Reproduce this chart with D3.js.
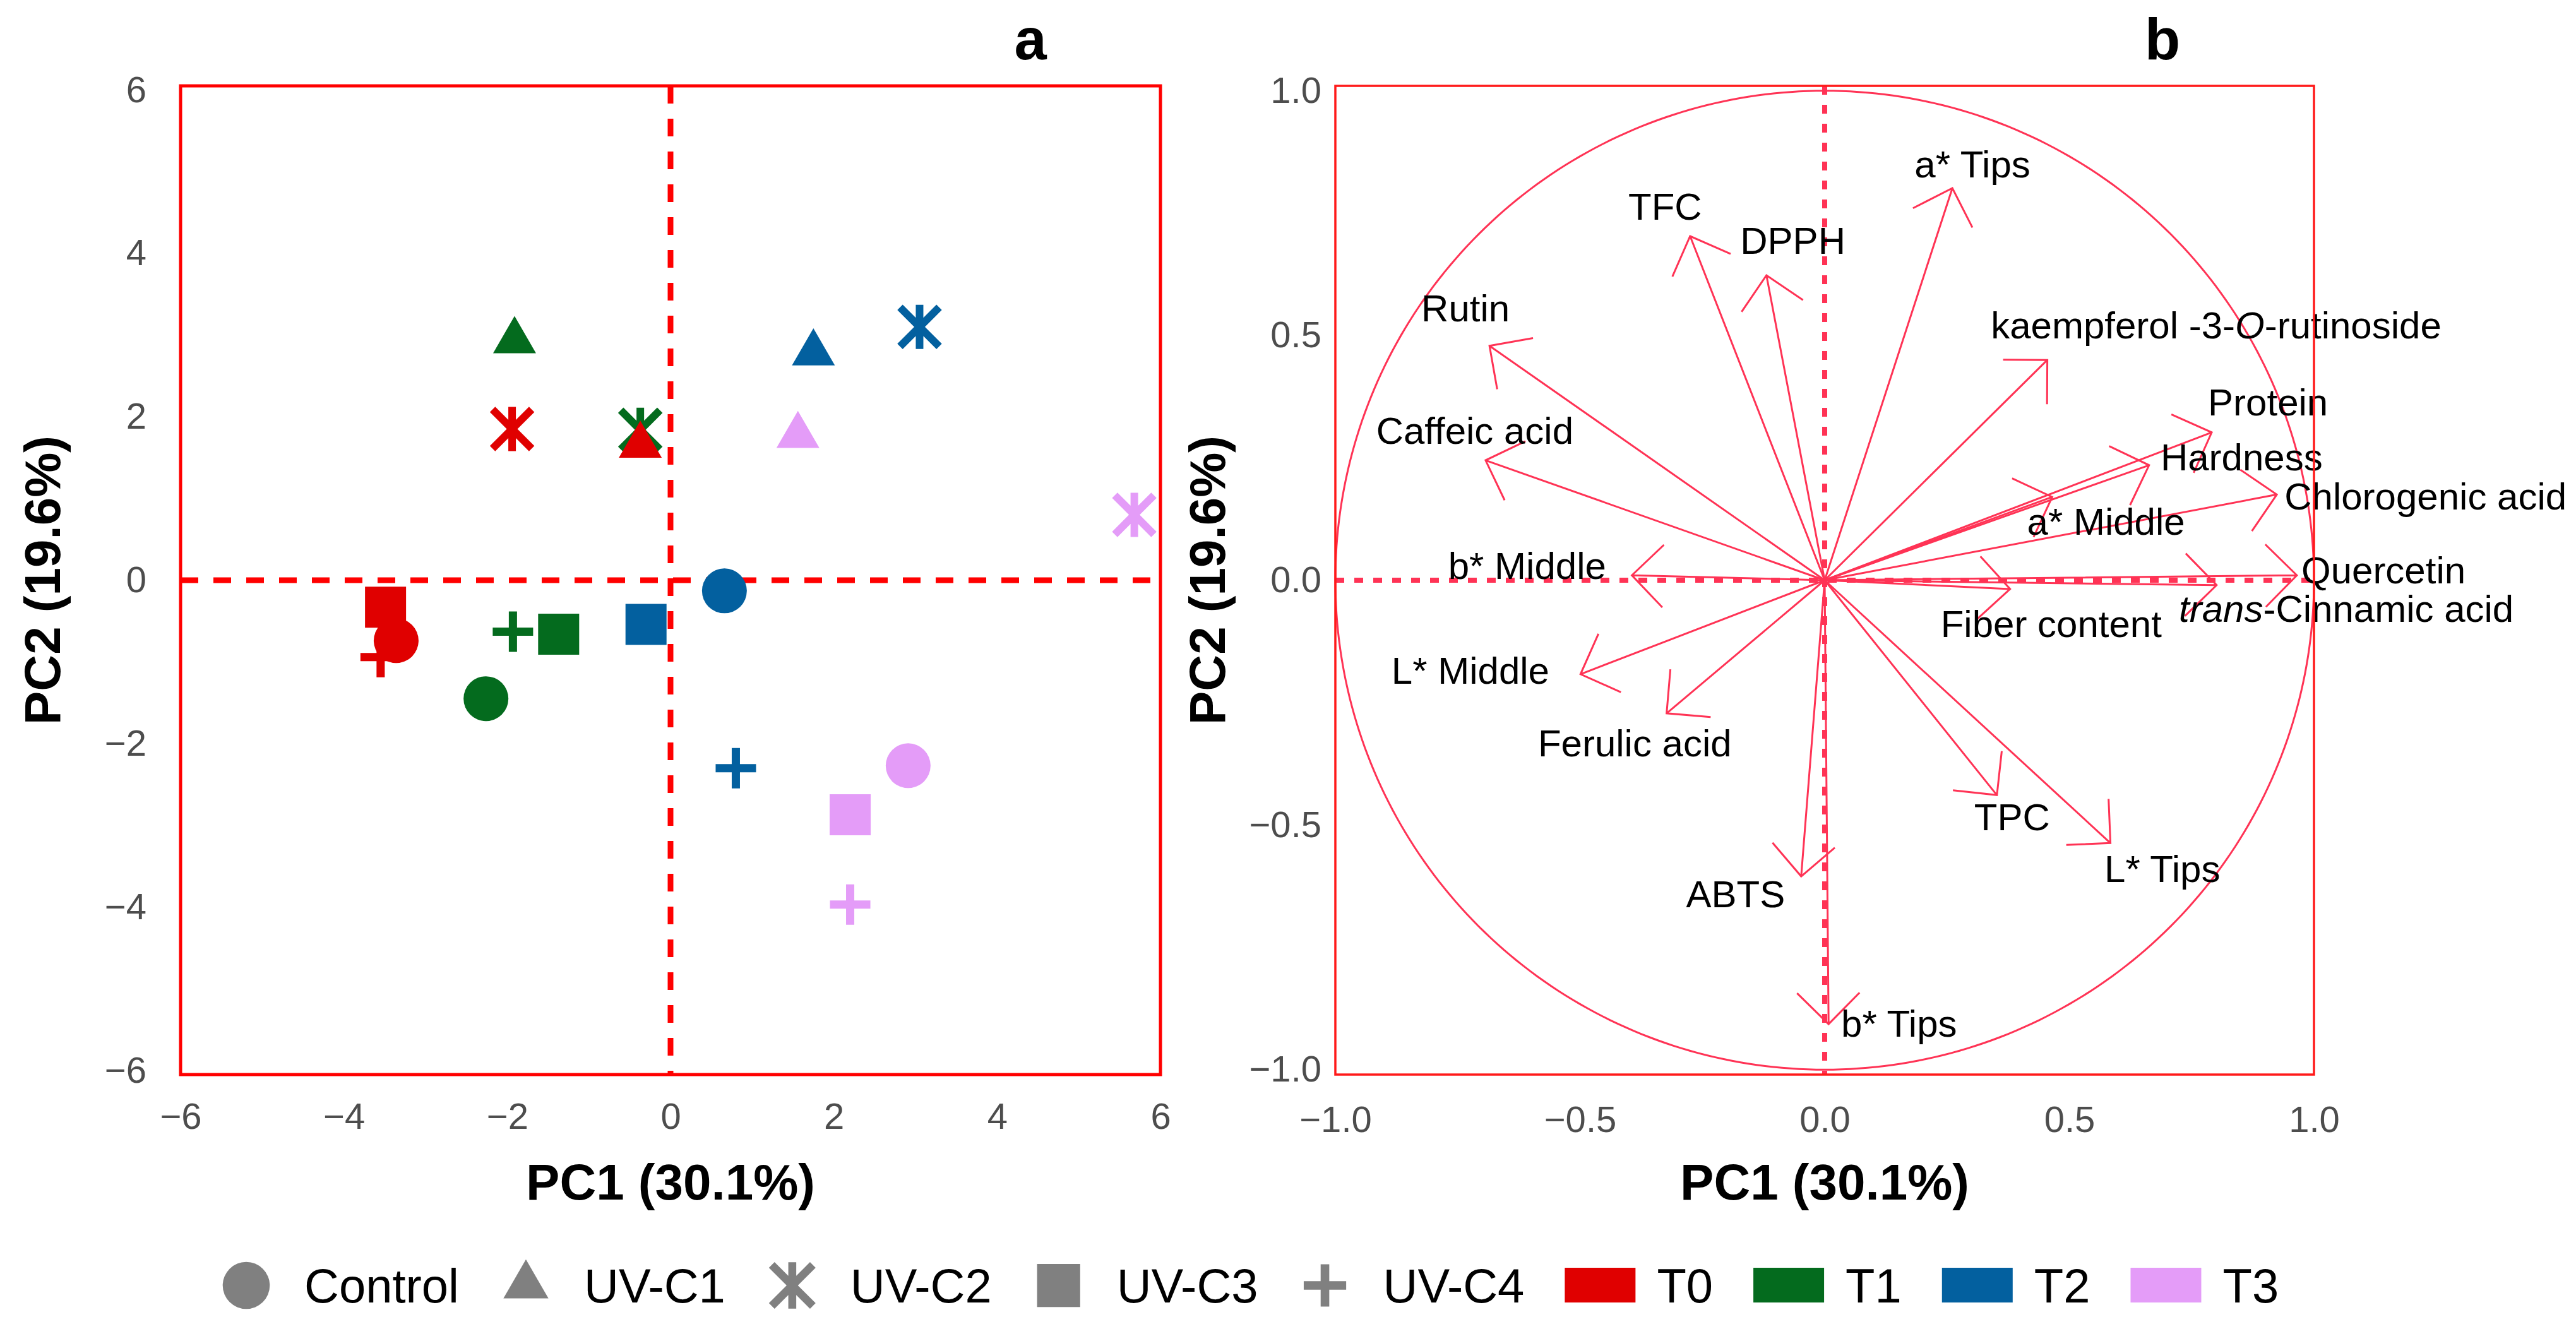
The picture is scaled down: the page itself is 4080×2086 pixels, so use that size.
<!DOCTYPE html>
<html><head><meta charset="utf-8">
<script src="https://cdn.jsdelivr.net/npm/d3@7"></script>
<style>html,body{margin:0;padding:0;background:#fff;} text{font-family:"Liberation Sans",Arial,Helvetica,sans-serif;}</style>
</head><body><svg id="chart" width="4080" height="2086"></svg>
<script>
// ---------- DATA ----------
const treatments = ["Control", "UV-C1", "UV-C2", "UV-C3", "UV-C4"];
const times = ["T0", "T1", "T2", "T3"];
const timeColors = ["#e00000", "#046b1e", "#03609f", "#e49cf8"];

// scores (PC1, PC2) per time, in treatment order
const pc1_T0 = [-3.36, -0.37, -1.94, -3.49, -3.55];
const pc2_T0 = [-0.74, 1.65, 1.85, -0.33, -0.94];
const pc1_T1 = [-2.26, -1.91, -0.37, -1.37, -1.93];
const pc2_T1 = [-1.45, 2.93, 1.84, -0.66, -0.63];
const pc1_T2 = [0.66, 1.75, 3.05, -0.30, 0.80];
const pc2_T2 = [-0.13, 2.78, 3.10, -0.54, -2.30];
const pc1_T3 = [2.91, 1.56, 5.68, 2.20, 2.20];
const pc2_T3 = [-2.27, 1.77, 0.80, -2.87, -3.97];

// loadings (variables)
const loadingVars = ["TFC", "DPPH", "a* Tips", "Rutin", "Caffeic acid", "kaempferol -3-_O_-rutinoside",
  "Protein", "Hardness", "Chlorogenic acid", "a* Middle", "b* Middle", "Quercetin", "Fiber content",
  "_trans_-Cinnamic acid", "L* Middle", "Ferulic acid", "TPC", "L* Tips", "ABTS", "b* Tips"];
const loadingPC1 = [-0.275, -0.119, 0.261, -0.685, -0.693, 0.455, 0.791, 0.663, 0.924, 0.465, -0.394, 0.965, 0.379, 0.801, -0.499, -0.323, 0.352, 0.584, -0.048, 0.008];
const loadingPC2 = [0.703, 0.623, 0.801, 0.479, 0.245, 0.450, 0.302, 0.235, 0.175, 0.170, 0.010, 0.010, -0.018, -0.010, -0.192, -0.272, -0.439, -0.537, -0.605, -0.907];
// label anchor positions (loading space)
const labelPC1 = [-0.326, -0.065, 0.302, -0.734, -0.715, 0.800, 0.906, 0.852, 1.228, 0.575, -0.608, 1.142, 0.463, 1.066, -0.724, -0.388, 0.383, 0.690, -0.182, 0.152];
const labelPC2 = [0.764, 0.694, 0.850, 0.556, 0.306, 0.521, 0.364, 0.252, 0.172, 0.120, 0.030, 0.021, -0.089, -0.058, -0.185, -0.333, -0.484, -0.590, -0.641, -0.906];

const scoreTicks = [-6, -4, -2, 0, 2, 4, 6];
const loadingTicks = [-1, -0.5, 0, 0.5, 1];
const axisTitleX = "PC1 (30.1%)";
const axisTitleY = "PC2 (19.6%)";

// ---------- SETUP ----------
const svg = d3.select("#chart");
svg.append("rect").attr("width", 4080).attr("height", 2086).attr("fill", "#fff");
const minus = d => d3.format("")(d).replace("-", "\u2212");
const fmt1 = d => d3.format(".1f")(d).replace("-", "\u2212");

const plotTop = 136, plotBottom = 1702;
// Panel a scales
const xa = d3.scaleLinear().domain([-6, 6]).range([286, 1838]);
const ya = d3.scaleLinear().domain([-6.05, 6.05]).range([plotBottom, plotTop]);
// Panel b scales
const xb = d3.scaleLinear().domain([-1, 1]).range([2115, 3665]);
const yb = d3.scaleLinear().domain([-1.01, 1.01]).range([plotBottom, plotTop]);

// ---------- PANEL A ----------
const gA = svg.append("g");
gA.append("line").attr("x1", xa(0)).attr("x2", xa(0)).attr("y1", plotTop).attr("y2", plotBottom)
  .attr("stroke", "#ff0000").attr("stroke-width", 9).attr("stroke-dasharray", "28,24");
gA.append("line").attr("x1", xa(-6)).attr("x2", xa(6)).attr("y1", ya(0)).attr("y2", ya(0))
  .attr("stroke", "#ff0000").attr("stroke-width", 9).attr("stroke-dasharray", "28,24");

function shapePath(name, s) {
  if (name === "Control") return d3.symbol(d3.symbolCircle, 3960 * s * s)();
  if (name === "UV-C1") return d3.symbol(d3.symbolTriangle, 2000 * s * s)();
  if (name === "UV-C3") return d3.symbol(d3.symbolSquare, 4225 * s * s)();
  return null;
}
function drawMarker(g, name, color, cx, cy, s) {
  if (name === "UV-C4") {
    const h = 32 * s;
    g.append("path").attr("d", `M${cx - h},${cy}H${cx + h}M${cx},${cy - h}V${cy + h}`)
      .attr("stroke", color).attr("stroke-width", 13 * s).attr("fill", "none");
  } else if (name === "UV-C2") {
    const h = 35 * s, d = 31 * s;
    g.append("path").attr("d", `M${cx},${cy - h}V${cy + h}M${cx - d},${cy - d}L${cx + d},${cy + d}M${cx - d},${cy + d}L${cx + d},${cy - d}`)
      .attr("stroke", color).attr("stroke-width", 12 * s).attr("fill", "none");
  } else {
    g.append("path").attr("d", shapePath(name, s)).attr("transform", `translate(${cx},${cy})`).attr("fill", color);
  }
}
const scoreData = [[pc1_T0, pc2_T0], [pc1_T1, pc2_T1], [pc1_T2, pc2_T2], [pc1_T3, pc2_T3]];
for (let ti = times.length - 1; ti >= 0; ti--) {
  for (let k = treatments.length - 1; k >= 0; k--) {
    drawMarker(gA, treatments[k], timeColors[ti], xa(scoreData[ti][0][k]), ya(scoreData[ti][1][k]), 1);
  }
}
gA.append("rect").attr("x", xa(-6)).attr("y", plotTop).attr("width", xa(6) - xa(-6)).attr("height", plotBottom - plotTop)
  .attr("fill", "none").attr("stroke", "#ff0000").attr("stroke-width", 5);

const axA_left = gA.append("g").attr("transform", `translate(${xa(-6)},0)`)
  .call(d3.axisLeft(ya).tickValues(scoreTicks).tickSize(0).tickPadding(54).tickFormat(minus));
const axA_bottom = gA.append("g").attr("transform", `translate(0,${plotBottom})`)
  .call(d3.axisBottom(xa).tickValues(scoreTicks).tickSize(0).tickPadding(45).tickFormat(minus));
[axA_left, axA_bottom].forEach(a => {
  a.select(".domain").remove();
  a.selectAll("text").attr("font-size", 58).attr("fill", "#4d4d4d").attr("font-family", '"Liberation Sans",Arial,sans-serif');
});

// ---------- PANEL B ----------
const gB = svg.append("g");
const lcol = "#ff3355";
const circ = d3.range(0, 361, 1).map(a => [Math.cos(a * Math.PI / 180), Math.sin(a * Math.PI / 180)]);
gB.append("path").attr("d", d3.line().x(d => xb(d[0])).y(d => yb(d[1]))(circ))
  .attr("fill", "none").attr("stroke", lcol).attr("stroke-width", 3);
gB.append("line").attr("x1", xb(0)).attr("x2", xb(0)).attr("y1", plotTop).attr("y2", plotBottom)
  .attr("stroke", lcol).attr("stroke-width", 8).attr("stroke-dasharray", "14,16");
gB.append("line").attr("x1", xb(-1)).attr("x2", xb(1)).attr("y1", yb(0)).attr("y2", yb(0))
  .attr("stroke", lcol).attr("stroke-width", 8).attr("stroke-dasharray", "14,16");
const ox = xb(0), oy = yb(0);
loadingVars.forEach((v, i) => {
  const tx = xb(loadingPC1[i]), ty = yb(loadingPC2[i]);
  const th = Math.atan2(ty - oy, tx - ox);
  const L = 70, ang = Math.PI / 4;
  const w1 = [tx - L * Math.cos(th - ang), ty - L * Math.sin(th - ang)];
  const w2 = [tx - L * Math.cos(th + ang), ty - L * Math.sin(th + ang)];
  gB.append("path").attr("d", `M${ox},${oy}L${tx},${ty}M${w1[0]},${w1[1]}L${tx},${ty}L${w2[0]},${w2[1]}`)
    .attr("fill", "none").attr("stroke", lcol).attr("stroke-width", 3).attr("stroke-linejoin", "miter");
});
loadingVars.forEach((v, i) => {
  const t = gB.append("text").attr("x", xb(labelPC1[i])).attr("y", yb(labelPC2[i]))
    .attr("dy", "0.35em").attr("text-anchor", "middle").attr("font-size", 60).attr("fill", "#000");
  v.split("_").forEach((part, j) => {
    if (part.length) t.append("tspan").text(part).attr("font-style", j % 2 ? "italic" : "normal");
  });
});
gB.append("rect").attr("x", xb(-1)).attr("y", plotTop).attr("width", xb(1) - xb(-1)).attr("height", plotBottom - plotTop)
  .attr("fill", "none").attr("stroke", "#ff1a1a").attr("stroke-width", 3.5);
const axB_left = gB.append("g").attr("transform", `translate(${xb(-1)},0)`)
  .call(d3.axisLeft(yb).tickValues(loadingTicks).tickSize(0).tickPadding(22).tickFormat(fmt1));
const axB_bottom = gB.append("g").attr("transform", `translate(0,${plotBottom})`)
  .call(d3.axisBottom(xb).tickValues(loadingTicks).tickSize(0).tickPadding(50).tickFormat(fmt1));
[axB_left, axB_bottom].forEach(a => {
  a.select(".domain").remove();
  a.selectAll("text").attr("font-size", 58).attr("fill", "#4d4d4d").attr("font-family", '"Liberation Sans",Arial,sans-serif');
});

// ---------- TITLES ----------
function axisTitles(xs, ys, yTitleX) {
  svg.append("text").attr("x", (xs.range()[0] + xs.range()[1]) / 2).attr("y", 1900)
    .attr("text-anchor", "middle").attr("font-size", 80).attr("font-weight", "bold").text(axisTitleX);
  svg.append("text").attr("transform", `translate(${yTitleX},${ys(0)}) rotate(-90)`)
    .attr("text-anchor", "middle").attr("font-size", 80).attr("font-weight", "bold").text(axisTitleY);
}
axisTitles(xa, ya, 95);
axisTitles(xb, yb, 1940);
svg.append("text").attr("x", 1632).attr("y", 94).attr("text-anchor", "middle").attr("font-size", 92).attr("font-weight", "bold").text("a");
svg.append("text").attr("x", 3425).attr("y", 94).attr("text-anchor", "middle").attr("font-size", 92).attr("font-weight", "bold").text("b");

// ---------- LEGEND ----------
const gL = svg.append("g");
const legY = 2036;
let lx = 390;
treatments.forEach(t => {
  drawMarker(gL, t, "#808080", lx, legY, 1.05);
  const tx = gL.append("text").attr("x", lx + 92).attr("y", legY).attr("dy", "0.36em")
    .attr("font-size", 76).attr("fill", "#000").text(t);
  lx = lx + 92 + tx.node().getComputedTextLength() + 106;
});
lx += 14;
times.forEach((t, i) => {
  gL.append("rect").attr("x", lx - 56).attr("y", legY - 28).attr("width", 112).attr("height", 55).attr("fill", timeColors[i]);
  const tx = gL.append("text").attr("x", lx + 90).attr("y", legY).attr("dy", "0.36em")
    .attr("font-size", 76).attr("fill", "#000").text(t);
  lx = lx + 90 + tx.node().getComputedTextLength() + 120;
});
</script></body></html>
